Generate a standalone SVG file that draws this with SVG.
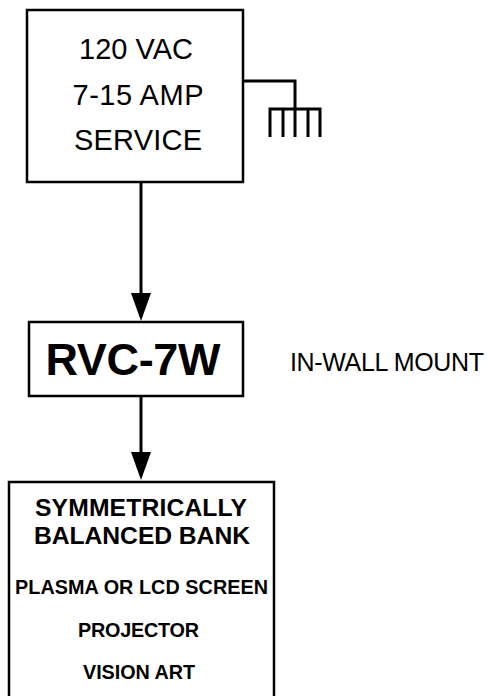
<svg xmlns="http://www.w3.org/2000/svg" width="487" height="696" viewBox="0 0 487 696">
<style>
.box{fill:#fff;stroke:#000;stroke-width:2.5}
.t{font-family:"Liberation Sans",Arial,sans-serif;fill:#000;text-anchor:middle}
.b{font-weight:bold}
.ln{fill:none;stroke:#000;stroke-width:3}
</style>
<defs>
<marker id="ah" markerWidth="28" markerHeight="20" refX="18" refY="10" orient="auto" markerUnits="userSpaceOnUse" viewBox="0 0 28 20">
<path d="M0,0 L28,10 L0,20 Z" fill="#000"/>
</marker>
</defs>
<rect width="487" height="696" fill="#fff"/>
<g id="connectors">
<line class="ln" x1="141" y1="183" x2="141" y2="311" marker-end="url(#ah)"/>
<line class="ln" x1="141" y1="397" x2="141" y2="470" marker-end="url(#ah)"/>
<path class="ln" d="M243,81 H295 V109"/>
</g>
<g id="ground">
<path class="ln" d="M270,137 V109 H320 V137 M283,109 V137 M295,109 V137 M308,109 V137"/>
</g>
<g id="service">
<rect class="box" x="27" y="10" width="216" height="172"/>
<text class="t" x="136" y="59" font-size="29" textLength="114">120 VAC</text>
<text class="t" x="138" y="105" font-size="29" textLength="131">7-15 AMP</text>
<text class="t" x="138" y="150" font-size="29" textLength="128">SERVICE</text>
</g>
<g id="rvc">
<rect class="box" x="29" y="322" width="214" height="74"/>
<text class="t b" x="133" y="375" font-size="45" textLength="175">RVC-7W</text>
</g>
<g id="label">
<text class="t" x="387" y="371" font-size="25" textLength="194">IN-WALL MOUNT</text>
</g>
<g id="bank">
<rect class="box" x="9" y="482" width="265" height="230"/>
<text class="t b" x="141" y="516" font-size="24.7" textLength="212">SYMMETRICALLY</text>
<text class="t b" x="142" y="544" font-size="24.7" textLength="216">BALANCED BANK</text>
<text class="t b" x="141.5" y="594" font-size="19.8" textLength="253">PLASMA OR LCD SCREEN</text>
<text class="t b" x="138.5" y="637" font-size="19.8" textLength="121">PROJECTOR</text>
<text class="t b" x="139" y="679" font-size="19.8" textLength="112">VISION ART</text>
</g>
</svg>
